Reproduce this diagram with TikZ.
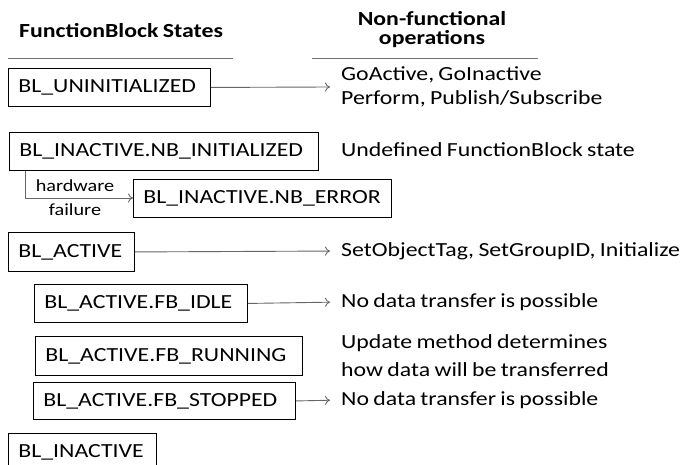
\documentclass[tikz,border=0pt]{standalone}
\usepackage{fontspec}
\setmainfont{Carlito}[FakeStretch=1.19,WordSpace=0.8]
\usetikzlibrary{arrows.meta}
\begin{document}
\begin{tikzpicture}[x=1pt,y=-1pt,
  stbox/.style={draw=black,line width=0.9pt,anchor=north west,inner xsep=10pt,inner ysep=0pt,align=left,font=\fontsize{20}{23}\selectfont},
  optxt/.style={anchor=west,inner sep=0pt,font=\fontsize{20}{23}\selectfont},
  conn/.style={draw=black!60,line width=0.9pt,-{To[length=5pt,width=9pt]}},
  hline/.style={draw=black!55,line width=0.9pt},
  lbl/.style={inner sep=0pt,font=\fontsize{17}{20}\selectfont}]
\useasboundingbox (0,0) rectangle (689,465);
% headers
\node[inner sep=0pt,anchor=west,font=\bfseries\fontsize{20}{23}\selectfont] (h1) at (19,31) {FunctionBlock States};
\node[inner sep=0pt,align=center,font=\bfseries\fontsize{20}{19}\selectfont] (h2) at (432,30) {Non-functional\\operations};
\coordinate (l1a) at (8,58); \coordinate (l1b) at (233,58);
\coordinate (l2a) at (312,58); \coordinate (l2b) at (538,58);
\draw[hline] (l1a) -- (l1b);
\draw[hline] (l2a) -- (l2b);
% boxes
\node[stbox,text width=182pt,minimum height=38pt] (uninit) at (8,68) {BL\_UNINITIALIZED};
\node[stbox,text width=289pt,minimum height=38pt] (nbinit) at (9,132) {BL\_INACTIVE.NB\_INITIALIZED};
\node[stbox,text width=238pt,minimum height=38pt] (nberr) at (133,179) {BL\_INACTIVE.NB\_ERROR};
\node[stbox,text width=106pt,minimum height=39pt] (active) at (8,232) {BL\_ACTIVE};
\node[stbox,text width=193pt,minimum height=38pt] (idle) at (34,284) {BL\_ACTIVE.FB\_IDLE};
\node[stbox,text width=247pt,minimum height=39pt] (running) at (35,336) {BL\_ACTIVE.FB\_RUNNING};
\node[stbox,text width=242pt,minimum height=37pt] (stopped) at (33,382) {BL\_ACTIVE.FB\_STOPPED};
\node[stbox,text width=128pt,minimum height=37pt] (inactive) at (8,433) {BL\_INACTIVE};
% operations text
\node[optxt] (op1) at (341,75) {GoActive, GoInactive};
\node[optxt] (op1b) at (341,99) {Perform, Publish/Subscribe};
\node[optxt] (op2) at (341,150) {Undefined FunctionBlock state};
\node[optxt] (op3) at (341,251) {SetObjectTag, SetGroupID, Initialize};
\node[optxt] (op4) at (341,302) {No data transfer is possible};
\node[optxt] (op5) at (341,343) {Update method determines};
\node[optxt] (op5b) at (341,370) {how data will be transferred};
\node[optxt] (op6) at (341,400) {No data transfer is possible};
% arrows
\coordinate (t1) at (330,87);
\draw[conn] (uninit.east) -- (t1);
\draw[conn,shorten >=11pt] (active.east) -- (op3.west);
\draw[conn,shorten >=11pt] (idle.east) -- (op4.west);
\draw[conn,shorten >=11pt] (stopped.east) -- (op6.west);
\coordinate (k) at (25,198);
\draw[conn] (nbinit.south west -| k) -- (k) -- (nberr.west |- k);
\node[lbl] (hw) at (75,186) {hardware};
\node[lbl] (fl) at (75,210) {failure};
\end{tikzpicture}
\end{document}
